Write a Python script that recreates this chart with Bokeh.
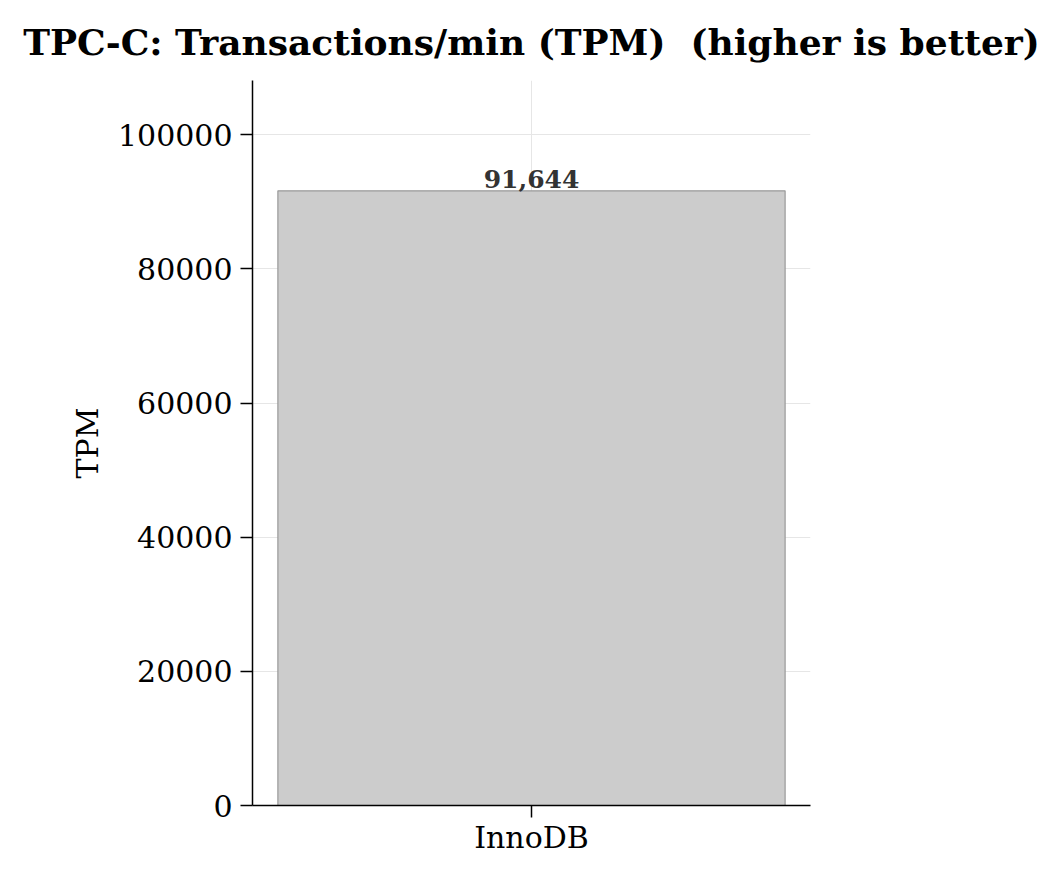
from bokeh.plotting import figure
from bokeh.models import FactorRange, Range1d, FixedTicker, Label
from bokeh.embed import file_html
from bokeh.resources import INLINE

categories = ["InnoDB"]
tpm = [91644]
y_ticks = [0, 20000, 40000, 60000, 80000, 100000]
title_text = "TPC-C: Transactions/min (TPM)\u00a0 (higher is better)"
y_label = "TPM"

FONT = "DejaVu Serif"

p = figure(x_range=FactorRange(*categories, range_padding=0.0),
           y_range=Range1d(0, 108100),
           width=1045, height=857, output_backend="svg", toolbar_location=None,
           title=title_text,
           min_border_left=252, min_border_right=235, min_border_top=80, min_border_bottom=51)

p.vbar(x=categories, top=tpm, width=0.909, fill_color="#cccccc", line_color="#999999", line_width=1.2)

for c, v in zip(categories, tpm):
    p.add_layout(Label(x=0.5, y=v, text=f"{v:,}", text_align="center", text_baseline="bottom",
                       text_font=FONT, text_font_style="bold", text_font_size="25px",
                       text_color="#333333", y_offset=3))

p.title.text_font = FONT
p.title.text_font_size = "36px"
p.title.text_font_style = "bold"
p.title.align = "center"
p.title.text_color = "black"
p.title.text_line_height = 0.9
p.title.standoff = 36

p.outline_line_color = None
p.background_fill_color = "white"
p.border_fill_color = "white"

p.yaxis.ticker = FixedTicker(ticks=y_ticks)
p.yaxis.axis_label = y_label
for ax in (p.xaxis[0], p.yaxis[0]):
    ax.major_label_text_font = FONT
    ax.major_label_text_font_size = "30px"
    ax.major_label_text_color = "black"
    ax.axis_label_text_font = FONT
    ax.axis_label_text_font_size = "30px"
    ax.axis_label_text_font_style = "normal"
    ax.axis_label_text_color = "black"
    ax.axis_line_color = "black"
    ax.axis_line_width = 1.5
    ax.major_tick_line_color = "black"
    ax.major_tick_line_width = 1.5
    ax.major_tick_out = 12
    ax.major_tick_in = 0
    ax.minor_tick_line_color = None
p.yaxis.formatter.use_scientific = False
p.yaxis.major_label_standoff = 8
p.yaxis.axis_label_standoff = 10
p.xaxis.major_label_standoff = 2

p.grid.grid_line_color = "#e6e6e6"
p.grid.grid_line_width = 1

open("out.html", "w").write(file_html(p, INLINE))
